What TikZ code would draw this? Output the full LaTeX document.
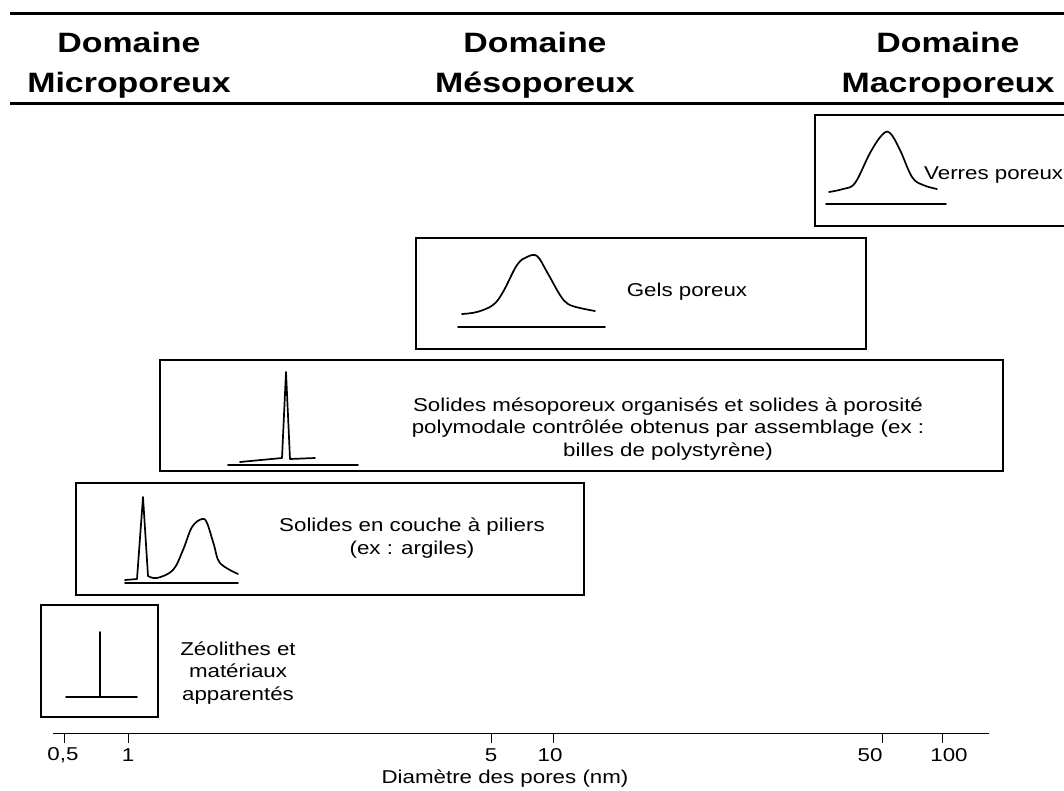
\documentclass[tikz,border=0pt]{standalone}
\usepackage{fontspec}
\setmainfont{Liberation Sans}[FakeStretch=1.2]
\newfontfamily\headfont{Liberation Sans}[FakeStretch=1.21]
\usetikzlibrary{calc}

\begin{document}
\begin{tikzpicture}[x=1pt,y=-1pt,
    boite/.style={line width=1.2pt},
    courbe/.style={line width=1.7pt, line join=round, line cap=round},
    texte/.style={font=\fontsize{18.6}{22.5}\selectfont, align=center, inner sep=0pt},
    titre/.style={font=\headfont\bfseries\fontsize{28}{40}\selectfont, align=center, inner sep=0pt}]
            \useasboundingbox (0,0) rectangle (1064,791);
            % bandeau des domaines
            \draw[line width=3pt] (10,14) -- (1070,14);
            \draw[line width=3pt] (10,104) -- (1070,104);
            \node[titre] (micro) at (129,65) {Domaine\\Microporeux};
            \node[titre] (meso) at (535,65) {Domaine\\Mésoporeux};
            \node[titre] (macro) at (948,65) {Domaine\\Macroporeux};
            % verres poreux
            \draw[boite] (815,115) rectangle (1075,226);
            \draw[courbe] plot[smooth, tension=0.6] coordinates {(829,192) (843,189) (855,183) (870,153) (882,135) (890,133) (900,150) (912,177) (923,185) (937,189)};
            \draw[courbe] (826,204) -- (946,204);
            \node[texte, anchor=west] (verres) at (924,175) {Verres poreux};
            % gels poreux
            \draw[boite] (416,238) rectangle (866,349);
            \draw[courbe] plot[smooth, tension=0.6] coordinates {(462,314) (477,312) (493,305) (503,292) (517,265) (527,257) (537,256) (547,272) (560,295) (568,304) (580,308) (595,311)};
            \draw[courbe] (458,327) -- (605,327);
            \node[texte] (gels) at (687,292) {Gels poreux};
            % solides mesoporeux organises
            \draw[boite] (160,360) rectangle (1003,471);
            \draw[courbe] (240,462) -- (282,458) -- (286,372) -- (290,459) -- (315,458);
            \draw[courbe] (228,465) -- (358,465);
            \node[texte] (organises) at (668,429) {Solides mésoporeux organisés et solides à porosité\\polymodale contrôlée obtenus par assemblage (ex :\\billes de polystyrène)};
            % solides en couche
            \draw[boite] (76,483) rectangle (584,595);
            \draw[courbe] (125,580) -- (137,579) -- (143,497) -- (148,576);
            \draw[courbe] plot[smooth, tension=0.6] coordinates {(148,576) (157,578) (173,570) (183,550) (192,527) (202,519) (207,523) (214,545) (220,563) (238,574)};
            \draw[courbe] (125,583) -- (238,583);
            \node[texte] (couche) at (412,538) {Solides en couche à piliers\\(ex : argiles)};
            % zeolithes
            \draw[boite] (41,605) rectangle (158,717);
            \draw[courbe] (100,632) -- (100,697);
            \draw[courbe] (66,697) -- (137,697);
            \node[texte] (zeolithes) at (238,673) {Zéolithes et\\matériaux\\apparentés};
            % axe des diametres
            \draw[line width=1pt] (53,733) -- (989,733);
            \foreach \xt/\xl/\val [count=\i] in {64/63/{0,5},128/128/1,491/491/5,553/550/10,882/870/50,942/949/100} {
                \draw[line width=1pt] (\xt,733) -- (\xt,743);
                \node[texte] (grad\i) at (\xl,755) {\val};
            }
            \node[texte] (diametre) at (505,779) {Diamètre des pores (nm)};
        \end{tikzpicture}
\end{document}
